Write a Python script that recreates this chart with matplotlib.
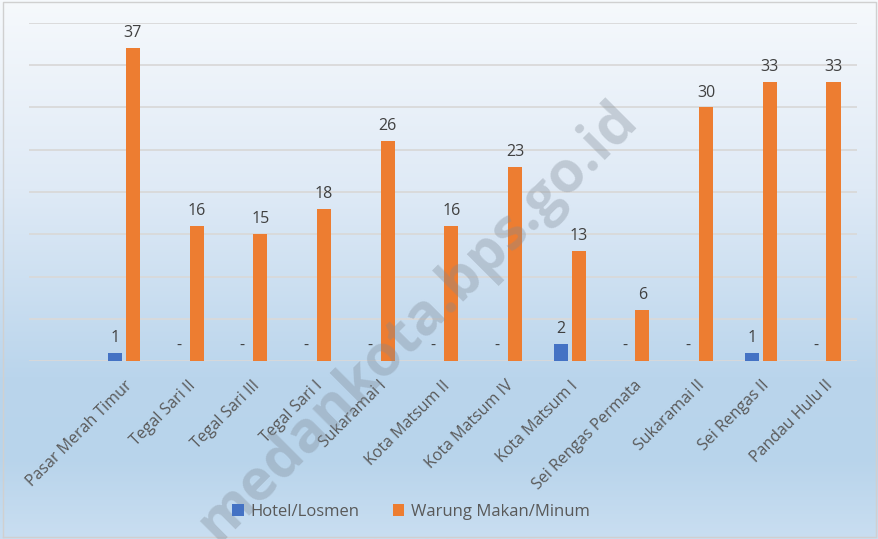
import numpy as np
import matplotlib
matplotlib.use('Agg')
from matplotlib import pyplot as plt
from matplotlib.colors import LinearSegmentedColormap

plt.rcParams['font.family'] = ['Open Sans', 'DejaVu Sans']

kelurahan = ['Pasar Merah Timur', 'Tegal Sari II', 'Tegal Sari III', 'Tegal Sari I',
             'Sukaramai I', 'Kota Matsum II', 'Kota Matsum IV', 'Kota Matsum I',
             'Sei Rengas Permata', 'Sukaramai II', 'Sei Rengas II', 'Pandau Hulu II']
hotel = [1, 0, 0, 0, 0, 0, 0, 2, 0, 0, 1, 0]
warung = [37, 16, 15, 18, 26, 16, 23, 13, 6, 30, 33, 33]

fig = plt.figure(figsize=(8.79, 5.39), dpi=100)

# background gradient
bg = fig.add_axes([0, 0, 1, 1], zorder=0)
grad_cmap = LinearSegmentedColormap.from_list(
    'bg', [(0, '#f6f9fc'), (0.35, '#dfeaf6'), (0.7, '#bad5ec'), (0.85, '#b8d4eb'), (1, '#c9def1')])
bg.imshow(np.linspace(0, 1, 256).reshape(-1, 1), aspect='auto', cmap=grad_cmap,
          extent=[0, 1, 0, 1], origin='upper')
bg.set_xlim(0, 1)
bg.set_ylim(0, 1)
bg.axis('off')
# thin frame
bg.plot([0.003, 0.997, 0.997, 0.003, 0.003], [0.003, 0.003, 0.996, 0.996, 0.003],
        color='#d0d0d0', lw=1)

ax = fig.add_axes([29 / 879, 1 - 361 / 539, (857 - 29) / 879, (361 - 23) / 539], zorder=1)
ax.patch.set_alpha(0)

x = np.arange(len(kelurahan))
w = 0.22
off = 0.141
b1 = ax.bar(x - off, hotel, w, color='#4472c4', label='Hotel/Losmen', zorder=3)
b2 = ax.bar(x + off, warung, w, color='#ed7d31', label='Warung Makan/Minum', zorder=3)

for rect, v in zip(b1, hotel):
    ax.annotate(str(v) if v else '-', (rect.get_x() + rect.get_width() / 2, v),
                xytext=(0, 5), textcoords='offset points', ha='center', va='bottom',
                fontsize=11.5, color='#404040')
for rect, v in zip(b2, warung):
    ax.annotate(str(v) if v else '-', (rect.get_x() + rect.get_width() / 2, v),
                xytext=(0, 5), textcoords='offset points', ha='center', va='bottom',
                fontsize=11.5, color='#404040')

ax.set_ylim(0, 40)
ax.set_xlim(-1.49, 11.51)
ax.set_yticks(np.arange(0, 41, 5))
ax.set_yticklabels([])
ax.tick_params(axis='y', length=0)
ax.grid(axis='y', color='#d9d9d9', lw=1.3, zorder=0)
for s in ax.spines.values():
    s.set_visible(False)

ax.set_xticks(x)
ax.set_xticklabels(kelurahan, rotation=45, ha='right', va='top', rotation_mode='anchor',
                   fontsize=11.5, color='#595959')
ax.tick_params(axis='x', length=0, pad=12)

fig.legend(handles=[b1, b2], loc='center', bbox_to_anchor=(411 / 879, 1 - 512 / 539),
           ncol=2, frameon=False, fontsize=12, labelcolor='#595959',
           handlelength=0.7, handleheight=0.7, columnspacing=2.0, handletextpad=0.4)

# watermark
fig.text(418 / 879, 1 - 322 / 539, 'medankota.bps.go.id', rotation=45, fontsize=41,
         fontweight='bold', color='#7f8a96', alpha=0.35, ha='center', va='center',
         zorder=5)

fig.savefig('out.png', dpi=100)
